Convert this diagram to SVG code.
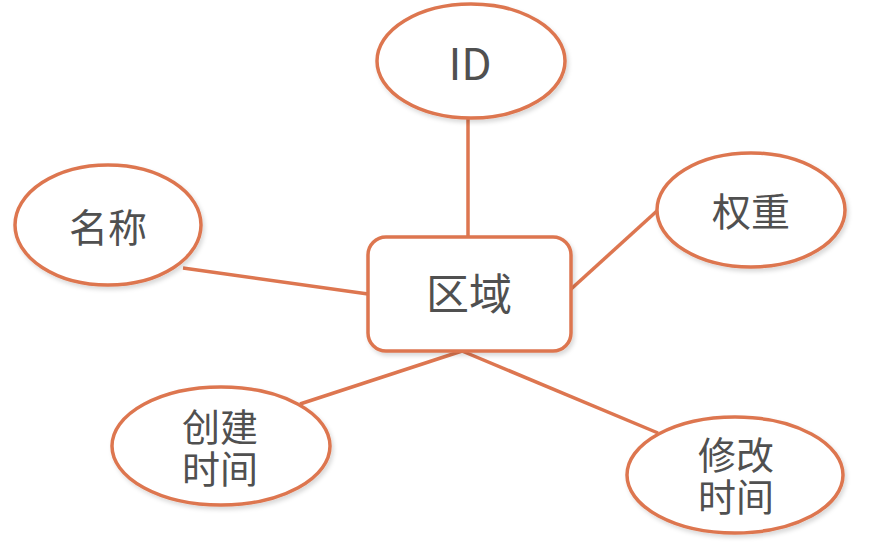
<svg xmlns="http://www.w3.org/2000/svg" width="875" height="549" viewBox="0 0 875 549">
<defs>
<filter id="sh" x="-10%" y="-10%" width="125%" height="130%"><feDropShadow dx="2" dy="3" stdDeviation="2" flood-color="#000" flood-opacity="0.15"/></filter>
</defs>
<style>
.n{fill:#fff;stroke:#DD7650;stroke-width:3.5;filter:url(#sh)}
.c line{stroke:#DD7650;stroke-width:3.5}
text{font-family:"Noto Sans CJK SC","Noto Sans",sans-serif;fill:#505050;text-anchor:middle}
</style>
<rect width="875" height="549" fill="#fff"/>
<g class="c">
<line x1="468" y1="118" x2="468" y2="237"/>
<line x1="183" y1="268" x2="368" y2="294"/>
<line x1="570" y1="290" x2="658" y2="210"/>
<line x1="300" y1="404" x2="462" y2="351"/>
<line x1="462" y1="351" x2="658" y2="433"/>
</g>
<g id="n-id"><ellipse class="n" cx="471" cy="61" rx="94" ry="57"/><text x="470" y="80" font-size="44">ID</text></g>
<g id="n-area"><rect class="n" x="368" y="237" width="203" height="114" rx="18"/><text x="469" y="310" font-size="43">区域</text></g>
<g id="n-name"><ellipse class="n" cx="108" cy="225" rx="93" ry="60"/><text x="108" y="242" font-size="39">名称</text></g>
<g id="n-weight"><ellipse class="n" cx="751" cy="210" rx="94" ry="57"/><text x="751" y="226" font-size="39">权重</text></g>
<g id="n-create"><ellipse class="n" cx="221" cy="446" rx="109" ry="59"/><text x="220" y="441" font-size="38">创建<tspan x="220" dy="42">时间</tspan></text></g>
<g id="n-modify"><ellipse class="n" cx="735" cy="475" rx="108" ry="58"/><text x="736" y="469" font-size="38">修改<tspan x="736" dy="42">时间</tspan></text></g>
</svg>
